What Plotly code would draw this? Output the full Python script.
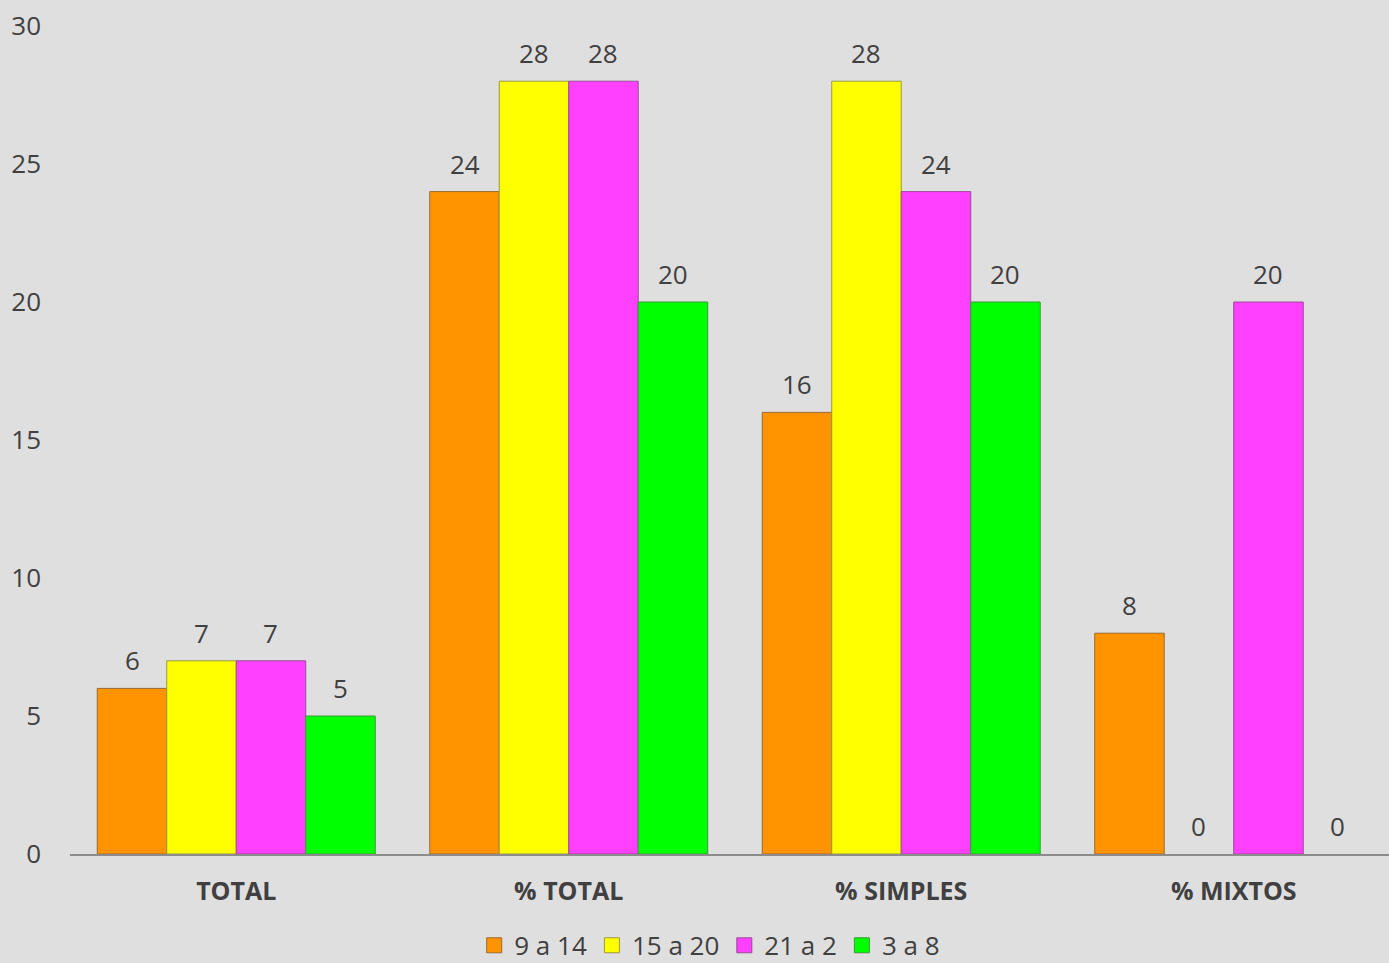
import plotly.graph_objects as go

categories = ["TOTAL", "% TOTAL", "% SIMPLES", "% MIXTOS"]
series_names = ["9 a 14", "15 a 20", "21 a 2", "3 a 8"]
s_9a14 = [6, 24, 16, 8]
s_15a20 = [7, 28, 28, 0]
s_21a2 = [7, 28, 24, 20]
s_3a8 = [5, 20, 20, 0]
colors = ["#FF9400", "#FFFF00", "#FF40FF", "#00FF00"]
outlines = ["#9A6A30", "#9A9A40", "#9A4A9A", "#3A9A3A"]

BARGAP = 0.164
FONT = "Open Sans"
TXT = "#404040"

fig = go.Figure()
all_series = [s_9a14, s_15a20, s_21a2, s_3a8]
n = len(all_series)
w = (1 - BARGAP) / n
for i, (name, vals, col, oc) in enumerate(zip(series_names, all_series, colors, outlines)):
    fig.add_trace(go.Bar(
        x=categories, y=vals, name=name, showlegend=False,
        marker=dict(color=col, line=dict(color=oc, width=[1 if v else 0 for v in vals])),
    ))
    # legend entry with square marker
    fig.add_trace(go.Scatter(
        x=[None], y=[None], mode="markers", name=name,
        marker=dict(symbol="square", size=15, color=col, line=dict(color=oc, width=1)),
    ))
    for j, v in enumerate(vals):
        fig.add_annotation(
            x=j + (i - (n - 1) / 2) * w, y=v, xref="x", yref="y",
            text=str(v), showarrow=False, yshift=28, yanchor="middle",
            font=dict(size=26, color=TXT, family=FONT),
        )

fig.update_layout(
    width=1389, height=963,
    margin=dict(l=70, r=0, t=26, b=109, autoexpand=False),
    paper_bgcolor="#DFDFDF", plot_bgcolor="#DFDFDF",
    barmode="group", bargap=BARGAP, bargroupgap=0,
    font=dict(family=FONT, color=TXT, size=26),
    showlegend=True,
    legend=dict(orientation="h", x=0.485, xanchor="center", y=-0.082, yanchor="top",
                font=dict(size=26, color=TXT, family=FONT), itemwidth=30, traceorder="normal",
                bgcolor="rgba(0,0,0,0)"),
    xaxis=dict(type="category", range=[-0.5, 3.467], showline=True, linecolor="#8C8C8C", linewidth=1.5,
               showgrid=False, ticks="", tickfont=dict(size=25, color=TXT, family=FONT),
               tickprefix="<b>", ticksuffix="</b>", ticklabelstandoff=14),
    yaxis=dict(range=[0, 30], dtick=5, showgrid=False, zeroline=False, showline=False,
               ticks="", tickfont=dict(size=26, color=TXT, family=FONT), ticklabelstandoff=28),
)
fig.write_html("out.html")
